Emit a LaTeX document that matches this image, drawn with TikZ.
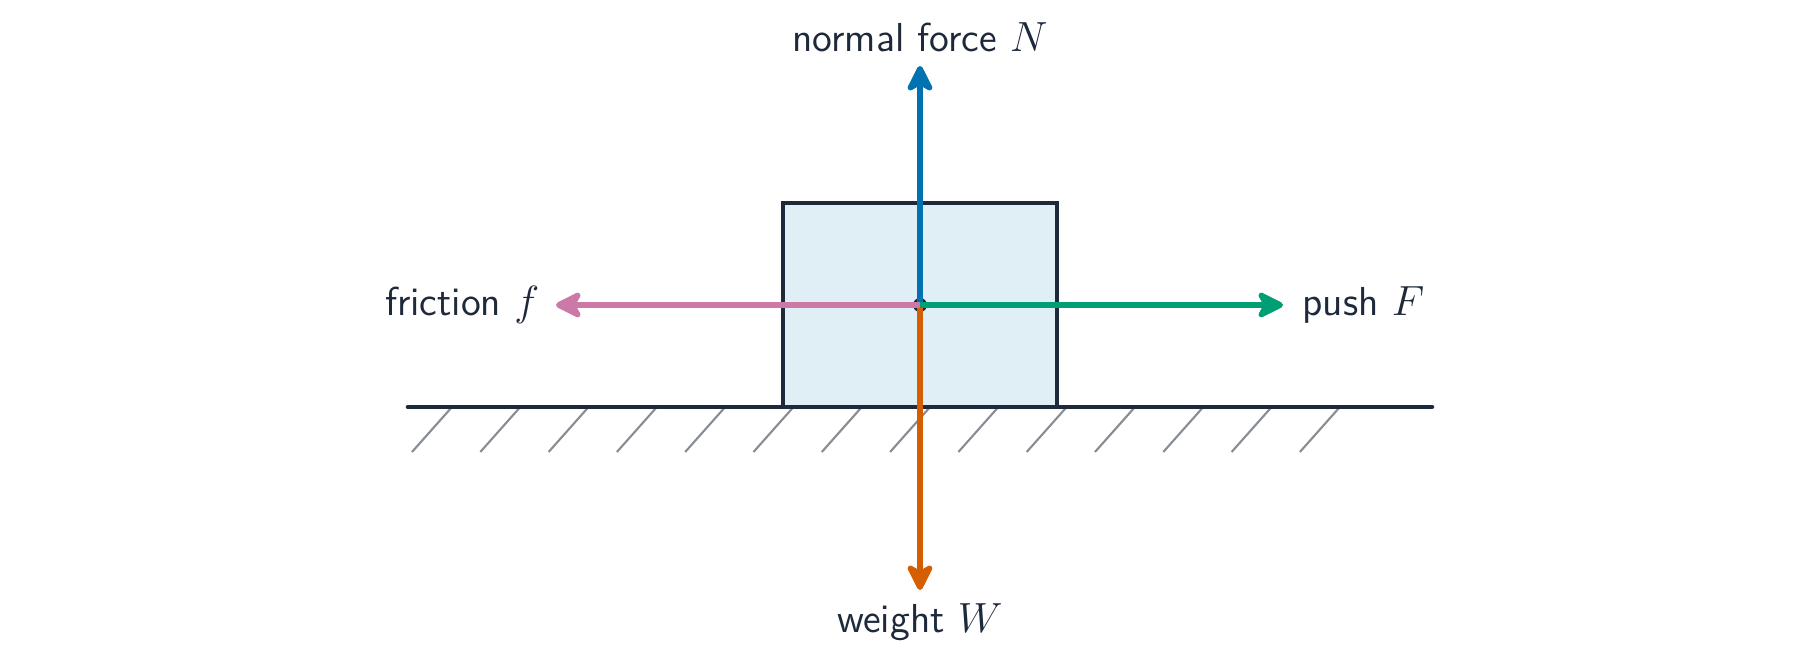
\documentclass[tikz,border=0pt]{standalone}
\usepackage{tikz}
\usepackage{xcolor}
\usetikzlibrary{arrows.meta,positioning}
\definecolor{ink}{HTML}{1E293B}
\definecolor{blockfill}{HTML}{E0EEF5}
\definecolor{hatchgray}{HTML}{888C94}
\definecolor{normalblue}{HTML}{0072B2}
\definecolor{weightorange}{HTML}{D55E00}
\definecolor{pushgreen}{HTML}{009E73}
\definecolor{frictionpink}{HTML}{CC79A7}
\tikzset{
    force/.style={line width=1.6pt, -{Stealth[round, length=9pt, width=9pt, inset=2.5pt]}},
    lbl/.style={text=ink, font=\sffamily\fontsize{11.5}{14}\selectfont, inner sep=0pt}
}
\begin{document}
\begin{tikzpicture}
                        \useasboundingbox (-9.2, -3.56) rectangle (8.8, 3.05);
                        % ground and block
                        \foreach \i in {0,...,13}
                            \draw[hatchgray, line width=0.6pt] (-4.68+\i*0.683, -1.02) -- ++(-0.4, -0.45);
                        \draw[ink, line width=1.1pt, fill=blockfill] (-1.37, -1.02) rectangle (1.37, 1.02);
                        \coordinate (gl) at (-5.12, -1.02);
                        \coordinate (gr) at (5.12, -1.02);
                        \draw[ink, line width=1.3pt, line cap=round] (gl) -- (gr);
                        \node[circle, fill=ink, inner sep=0pt, minimum size=4pt] (c) at (0, 0) {};
                        \coordinate (nt) at (0, 2.39);
                        \coordinate (wt) at (0, -2.85);
                        \coordinate (pt) at (3.63, 0);
                        \coordinate (ft) at (-3.64, 0);
                        \draw[force, normalblue] (c.center) -- (nt);
                        \draw[force, weightorange] (c.center) -- (wt);
                        \draw[force, pushgreen] (c.center) -- (pt);
                        \draw[force, frictionpink] (c.center) -- (ft);
                        % labels
                        \node[lbl] (nl) at (0, 2.68) {normal force $N$};
                        \node[lbl] (wl) at (0, -3.17) {weight $W$};
                        \node[lbl, anchor=west] (pl) at (3.82, 0) {push $F$};
                        \node[lbl, anchor=east] (fl) at (-3.8, 0) {friction $f$};
                    \end{tikzpicture}
\end{document}
